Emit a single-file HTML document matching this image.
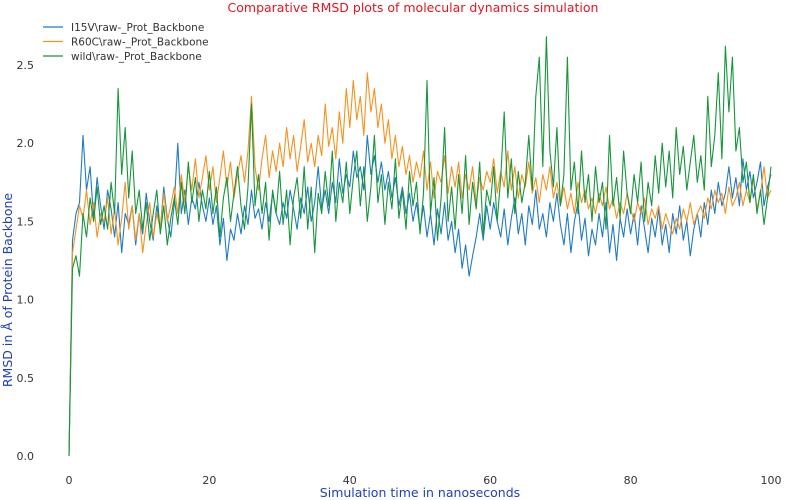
<!DOCTYPE html>
<html><head><meta charset="utf-8"><style>
html,body{margin:0;padding:0;background:#fff;}
svg{display:block;font-family:"DejaVu Sans","Liberation Sans",sans-serif;}
</style></head><body>
<svg id="chart" width="789" height="500">
<text x="413" y="12" text-anchor="middle" fill="#e8141e" font-size="12.5">Comparative RMSD plots of molecular dynamics simulation</text>
<text x="420" y="497" text-anchor="middle" fill="#1f3fbf" font-size="12.5">Simulation time in nanoseconds</text>
<text transform="translate(12,290) rotate(-90)" text-anchor="middle" fill="#1f3fbf" font-size="12.5">RMSD in Å of Protein Backbone</text>
<g id="ticks"></g>
<g id="series"></g>
<g id="legend"></g>
</svg>
<script>
const xTicks=[0,20,40,60,80,100];
const yTicks=[0.0,0.5,1.0,1.5,2.0,2.5];
const seriesNames=["I15V\\raw-_Prot_Backbone","R60C\\raw-_Prot_Backbone","wild\\raw-_Prot_Backbone"];
const timeStep=0.5;
const i15v=[0,1.38,1.55,1.62,2.05,1.70,1.85,1.52,1.78,1.60,
1.45,1.70,1.58,1.40,1.62,1.30,1.55,1.48,1.60,1.35,
1.55,1.42,1.68,1.50,1.38,1.60,1.45,1.72,1.52,1.40,
1.62,2.00,1.55,1.70,1.48,1.65,1.58,1.75,1.60,1.50,
1.65,1.48,1.60,1.35,1.52,1.25,1.45,1.38,1.55,1.42,
1.60,1.48,1.70,1.52,1.58,1.45,1.62,1.50,1.68,1.55,
1.48,1.62,1.52,1.70,1.58,1.45,1.65,1.55,1.72,1.50,
1.62,1.85,1.58,1.70,1.55,1.75,1.62,1.90,1.68,1.80,
1.72,1.95,1.78,1.85,1.70,2.05,1.80,1.92,1.75,1.88,
1.70,1.82,1.65,1.78,1.60,1.72,1.55,1.68,1.50,1.62,
1.45,1.60,1.40,1.55,1.35,1.58,1.42,1.62,1.38,1.50,
1.30,1.45,1.20,1.35,1.15,1.28,1.40,1.55,1.38,1.60,
1.45,1.62,1.50,1.40,1.58,1.35,1.52,1.65,1.42,1.55,
1.35,1.60,1.48,1.70,1.45,1.55,1.40,1.62,1.50,1.68,
1.48,1.35,1.55,1.30,1.50,1.62,1.38,1.52,1.28,1.45,
1.35,1.55,1.40,1.62,1.30,1.48,1.25,1.52,1.40,1.58,
1.42,1.55,1.35,1.60,1.45,1.30,1.52,1.40,1.58,1.35,
1.48,1.30,1.55,1.42,1.60,1.38,1.50,1.28,1.45,1.55,
1.40,1.62,1.48,1.70,1.55,1.75,1.60,1.68,1.85,1.65,
1.78,1.60,1.90,1.70,1.82,1.65,1.75,1.88,1.60,1.72,1.80];
const r60c=[0,1.30,1.45,1.60,1.52,1.70,1.48,1.62,1.40,1.55,
1.50,1.65,1.42,1.58,1.35,1.52,1.75,1.45,1.60,1.38,
1.55,1.30,1.48,1.62,1.40,1.55,1.45,1.68,1.50,1.60,
1.72,1.55,1.80,1.62,1.85,1.70,1.90,1.65,1.78,1.92,
1.70,1.85,1.62,1.78,1.95,1.72,1.88,1.65,1.80,1.92,
1.75,1.95,2.30,1.85,1.70,1.90,2.05,1.78,1.95,1.82,
2.00,1.85,2.10,1.90,2.05,1.82,1.98,2.15,1.88,2.00,
1.85,2.05,1.92,2.25,1.98,2.10,1.90,2.20,2.00,2.35,
2.10,2.40,2.15,2.30,2.05,2.45,2.20,2.35,2.10,2.25,
2.00,2.15,1.90,2.05,1.85,1.98,1.80,1.92,1.75,1.88,
1.78,1.95,1.70,1.88,1.65,1.82,1.75,1.92,1.68,1.85,
1.72,1.88,1.65,1.80,1.70,1.85,1.62,1.78,1.70,1.82,
1.75,1.90,1.68,1.82,1.72,1.95,1.70,1.85,1.65,1.80,
1.72,1.88,1.68,1.78,1.62,1.80,1.70,1.85,1.65,1.75,
1.60,1.72,1.58,1.68,1.55,1.75,1.62,1.70,1.58,1.65,
1.55,1.68,1.60,1.72,1.58,1.65,1.52,1.62,1.55,1.68,
1.58,1.50,1.62,1.55,1.65,1.48,1.58,1.52,1.60,1.45,
1.55,1.48,1.42,1.52,1.45,1.58,1.50,1.62,1.48,1.55,
1.60,1.52,1.65,1.58,1.70,1.62,1.68,1.55,1.72,1.60,
1.65,1.75,1.60,1.70,1.62,1.78,1.58,1.68,1.85,1.65,1.70];
const wild=[0,1.20,1.28,1.15,1.55,1.40,1.65,1.50,1.72,1.48,
1.60,1.45,1.75,1.55,2.35,1.80,2.10,1.65,1.95,1.55,
1.70,1.45,1.62,1.38,1.55,1.70,1.42,1.60,1.35,1.52,
1.65,1.48,1.75,1.55,1.88,1.62,1.78,1.50,1.70,1.58,
1.82,1.55,1.72,1.40,1.65,1.78,1.50,1.68,1.85,1.60,
1.45,1.72,2.25,1.60,1.80,1.55,1.75,1.38,1.70,1.55,
1.82,1.48,1.70,1.35,1.65,1.78,1.52,1.85,1.45,1.72,
1.30,1.68,1.55,1.82,1.60,1.95,1.50,1.75,1.62,1.88,
1.55,1.78,1.95,1.60,1.85,1.50,1.72,2.05,1.62,1.80,
1.48,1.75,1.58,1.90,1.52,1.70,1.45,1.82,1.60,1.75,
1.42,1.68,2.40,1.55,1.78,1.38,1.65,2.10,1.50,1.72,
1.45,1.80,1.55,1.92,1.48,1.75,1.58,1.88,1.42,1.70,
1.60,1.85,1.50,1.78,2.20,1.65,1.90,1.55,1.82,1.62,
1.75,2.05,1.70,2.30,2.55,1.85,2.68,1.95,1.72,2.10,
1.60,1.80,2.55,1.70,1.88,1.55,1.95,1.62,1.80,1.50,
1.85,1.62,1.75,1.45,2.05,1.60,1.78,1.52,1.95,1.68,
1.55,1.80,1.62,1.88,1.50,1.75,1.60,1.92,1.68,2.00,
1.72,1.95,1.65,2.10,1.80,1.98,1.70,1.88,2.05,1.75,
1.92,1.70,2.30,1.85,2.05,2.45,1.90,2.62,2.20,2.55,
1.95,2.10,1.75,1.88,1.62,1.80,1.55,1.70,1.48,1.65,1.85];
const colors=["#1f7bc4","#f5921e","#15963a"];
const NS="http://www.w3.org/2000/svg";
const xS=t=>69+t*7.02;
const yS=v=>456-v*156.4;
const tg=document.getElementById('ticks');
xTicks.forEach(t=>{
  const e=document.createElementNS(NS,'text');
  e.setAttribute('x',xS(t));e.setAttribute('y',484);e.setAttribute('text-anchor','middle');
  e.setAttribute('font-size','11');e.setAttribute('fill','#333');e.textContent=t;
  
  
  tg.appendChild(e);
});
yTicks.forEach(v=>{
  const e=document.createElementNS(NS,'text');
  e.setAttribute('x',34);e.setAttribute('y',yS(v)+4);e.setAttribute('text-anchor','end');
  e.setAttribute('font-size','11');e.setAttribute('fill','#333');e.textContent=v.toFixed(1);
  
  
  tg.appendChild(e);
});
const sg=document.getElementById('series');
[i15v,r60c,wild].forEach((arr,k)=>{
  const p=document.createElementNS(NS,'polyline');
  p.setAttribute('points',arr.map((v,i)=>xS(i*timeStep).toFixed(1)+','+yS(v).toFixed(1)).join(' '));
  p.setAttribute('fill','none');p.setAttribute('stroke',colors[k]);p.setAttribute('stroke-width','1.1');
  p.setAttribute('stroke-linejoin','round');
  
  
  sg.appendChild(p);
});
const lg=document.getElementById('legend');
seriesNames.forEach((n,k)=>{
  const y=27+k*14.5;
  const l=document.createElementNS(NS,'line');
  l.setAttribute('x1',43);l.setAttribute('x2',63);l.setAttribute('y1',y);l.setAttribute('y2',y);
  l.setAttribute('stroke',colors[k]);l.setAttribute('stroke-width','1.2');
  
  
  lg.appendChild(l);
  const t=document.createElementNS(NS,'text');
  t.setAttribute('x',71);t.setAttribute('y',y+4);t.setAttribute('font-size','10.5');t.setAttribute('fill','#333');
  t.textContent=n;
  
  
  lg.appendChild(t);
});
</script>
</body></html>
